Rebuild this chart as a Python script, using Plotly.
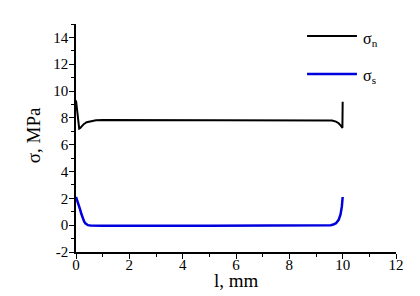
import plotly.graph_objects as go

# sigma_n (normal stress) along the joint
l_n = [0.0, 0.03, 0.06, 0.09, 0.12, 0.16, 0.22, 0.3, 0.4, 0.55, 0.75, 1.0, 2.0, 5.0, 8.0, 9.0, 9.4, 9.6, 9.75, 9.85, 9.92, 9.97, 9.99, 10.0]
sigma_n = [9.3, 8.8, 8.1, 7.5, 7.2, 7.25, 7.4, 7.55, 7.68, 7.76, 7.82, 7.84, 7.84, 7.84, 7.84, 7.84, 7.83, 7.8, 7.72, 7.6, 7.45, 7.3, 7.25, 9.2]

# sigma_s (shear stress) along the joint
l_s = [0.0, 0.05, 0.1, 0.15, 0.2, 0.25, 0.3, 0.35, 0.4, 0.45, 0.55, 0.7, 1.0, 5.0, 9.0, 9.4, 9.55, 9.65, 9.75, 9.85, 9.92, 9.97, 10.0]
sigma_s = [2.1, 1.85, 1.55, 1.2, 0.85, 0.55, 0.3, 0.14, 0.05, 0.0, -0.03, -0.05, -0.05, -0.05, -0.05, -0.03, 0.0, 0.05, 0.15, 0.4, 0.8, 1.4, 2.1]

x_ticks = [0, 2, 4, 6, 8, 10, 12]
y_ticks = [-2, 0, 2, 4, 6, 8, 10, 12, 14]

font_family = "Liberation Serif"

fig = go.Figure()
fig.add_trace(go.Scatter(x=l_n, y=sigma_n, mode="lines", line=dict(color="black", width=2), showlegend=False))
fig.add_trace(go.Scatter(x=l_s, y=sigma_s, mode="lines", line=dict(color="#0000dd", width=2.5), showlegend=False))

axis_common = dict(
    showline=True, linecolor="black", linewidth=1.5, mirror=False,
    showgrid=False, zeroline=False, automargin=False,
    ticks="outside", ticklen=5, tickwidth=1.2, tickcolor="black",
    tickfont=dict(family=font_family, size=15, color="black"),
    minor=dict(ticks="outside", ticklen=3, tickwidth=1, tickcolor="black", dtick=1),
)

fig.update_xaxes(range=[0, 12], tickvals=x_ticks, ticktext=[str(v) for v in x_ticks],
                 ticklabelstandoff=-7, **axis_common)
fig.update_yaxes(range=[-2, 15], tickvals=y_ticks, ticktext=[str(v) for v in y_ticks],
                 ticklabelstandoff=-2, **axis_common)

# axis titles
fig.add_annotation(xref="paper", yref="paper", x=0.503, y=-0.123, xanchor="center", yanchor="middle",
                   text="l, mm", showarrow=False, font=dict(family=font_family, size=19, color="black"))
fig.add_annotation(xref="paper", yref="paper", x=-0.134, y=0.513, xanchor="center", yanchor="middle",
                   text="σ, MPa", textangle=-90, showarrow=False,
                   font=dict(family=font_family, size=19, color="black"))

# legend drawn in paper coordinates
legend_items = [("σ<sub>n</sub>", "black", 2, 0.947), ("σ<sub>s</sub>", "#0000dd", 2.5, 0.781)]
for label, color, width, yp in legend_items:
    fig.add_shape(type="line", xref="paper", yref="paper", x0=0.722, x1=0.878, y0=yp, y1=yp,
                  line=dict(color=color, width=width))
    fig.add_annotation(xref="paper", yref="paper", x=0.89, y=yp, xanchor="left", yanchor="middle",
                       text=label, showarrow=False, yshift=-3,
                       font=dict(family=font_family, size=16, color="black"))

# page body has an 8px margin: shrink figure so the plot area lands where the reference has it
fig.update_layout(
    width=412, height=288,
    margin=dict(l=68, r=24, t=16, b=44),
    paper_bgcolor="white", plot_bgcolor="white",
)

fig.write_html("out.html")
